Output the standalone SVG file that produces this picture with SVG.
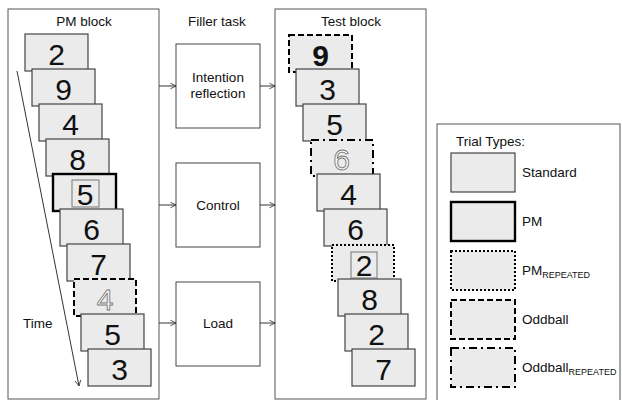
<svg xmlns="http://www.w3.org/2000/svg" width="622" height="400" viewBox="0 0 622 400">
  <defs>
    <style>
      text { font-family: "Liberation Sans", Arial, sans-serif; fill: #111; }
      .lbl { font-size: 13.5px; }
      .mid { text-anchor: middle; }
      .block { fill: #fff; stroke: #555; stroke-width: 1; }
      .task { fill: #fff; stroke: #444; stroke-width: 1; }
      .card { fill: #ebebeb; stroke: #444; stroke-width: 1.2; }
      .pm { fill: #ebebeb; stroke: #000; stroke-width: 2.4; }
      .pmrep { fill: #ebebeb; stroke: #000; stroke-width: 2; stroke-dasharray: 2 2; }
      .odd { fill: #ebebeb; stroke: #000; stroke-width: 2; stroke-dasharray: 6 3; }
      .oddrep { fill: #ebebeb; stroke: #000; stroke-width: 2; stroke-dasharray: 8 4 2 4; }
      .inner { fill: #ebebeb; stroke: #777; stroke-width: 1; }
      .digit { font-size: 30px; text-anchor: middle; }
      .bold { font-weight: bold; }
      .hollow { fill: #f7f7f7; stroke: #7a7a7a; stroke-width: 0.9; }
      .conn { fill: none; stroke: #333; stroke-width: 1; }
      .sub { font-size: 9px; }
    </style>
    <marker id="open" viewBox="0 0 10 10" refX="9" refY="5" markerWidth="7" markerHeight="7" orient="auto" markerUnits="userSpaceOnUse">
      <path d="M1,1 L9,5 L1,9" fill="none" stroke="#333" stroke-width="1.2"/>
    </marker>
  </defs>

  <!-- study phase -->
  <g id="pm-block">
    <rect class="block" x="8" y="9" width="151" height="390"/>
    <text class="lbl mid" x="84" y="26">PM block</text>
    <line class="conn" x1="17" y1="71" x2="79" y2="386" marker-end="url(#open)"/>
    <text class="lbl" x="23" y="328">Time</text>
    <rect class="card" x="25" y="34" width="63" height="37"/><text class="digit" x="56.5" y="65">2</text>
    <rect class="card" x="32" y="69" width="63" height="37"/><text class="digit" x="63.5" y="100">9</text>
    <rect class="card" x="39" y="104" width="63" height="37"/><text class="digit" x="70.5" y="135">4</text>
    <rect class="card" x="46" y="139" width="63" height="37"/><text class="digit" x="77.5" y="170">8</text>
    <rect class="pm" x="53" y="174" width="63" height="37"/>
    <rect class="inner" x="72" y="180" width="27" height="27"/><text class="digit" x="85" y="205">5</text>
    <rect class="card" x="60" y="209" width="63" height="37"/><text class="digit" x="91.5" y="240">6</text>
    <rect class="card" x="67" y="244" width="63" height="37"/><text class="digit" x="98.5" y="275">7</text>
    <rect class="odd" x="74" y="279" width="62" height="37"/><text class="digit hollow" x="105" y="310">4</text>
    <rect class="card" x="81" y="314" width="63" height="37"/><text class="digit" x="112.5" y="345">5</text>
    <rect class="card" x="88" y="349" width="63" height="37"/><text class="digit" x="119.5" y="380">3</text>
  </g>

  <!-- filler tasks -->
  <g id="filler-title">
    <text class="lbl mid" x="217" y="26">Filler task</text>
  </g>
  <g id="intention-reflection">
    <rect class="task" x="176" y="44" width="84" height="84"/>
    <text class="lbl mid" x="218" y="82">Intention</text>
    <text class="lbl mid" x="218" y="98">reflection</text>
  </g>
  <g id="control">
    <rect class="task" x="176" y="163" width="84" height="84"/>
    <text class="lbl mid" x="218" y="210">Control</text>
  </g>
  <g id="load">
    <rect class="task" x="176" y="282" width="84" height="84"/>
    <text class="lbl mid" x="218" y="328">Load</text>
  </g>

  <!-- test phase -->
  <g id="test-block">
    <rect class="block" x="275" y="9" width="151" height="390"/>
    <text class="lbl mid" x="351" y="26">Test block</text>
    <rect class="odd" x="289" y="35" width="63" height="37"/><text class="digit bold" x="320.5" y="66">9</text>
    <rect class="card" x="296" y="69" width="63" height="37"/><text class="digit" x="327.5" y="100">3</text>
    <rect class="card" x="303" y="104" width="63" height="37"/><text class="digit" x="334.5" y="135">5</text>
    <rect class="oddrep" x="311" y="140" width="62" height="36"/><text class="digit hollow" x="341.5" y="170">6</text>
    <rect class="card" x="317" y="174" width="63" height="37"/><text class="digit" x="348.5" y="205">4</text>
    <rect class="card" x="324" y="209" width="63" height="37"/><text class="digit" x="355.5" y="240">6</text>
    <rect class="pmrep" x="332" y="245" width="62" height="36"/>
    <rect class="inner" x="351" y="252" width="26" height="26"/><text class="digit" x="364" y="276">2</text>
    <rect class="card" x="338" y="279" width="63" height="37"/><text class="digit" x="369.5" y="310">8</text>
    <rect class="card" x="345" y="314" width="63" height="37"/><text class="digit" x="376.5" y="345">2</text>
    <rect class="card" x="352" y="349" width="63" height="37"/><text class="digit" x="383.5" y="380">7</text>
  </g>

  <!-- legend -->
  <g id="legend">
    <rect class="block" x="437" y="124" width="183" height="290"/>
    <text class="lbl" x="456" y="146">Trial Types:</text>
    <rect class="card" x="451" y="153" width="64" height="39"/>
    <text class="lbl" x="522" y="177">Standard</text>
    <rect class="pm" x="451" y="202" width="64" height="39"/>
    <text class="lbl" x="522" y="226">PM</text>
    <rect class="pmrep" x="451" y="251" width="64" height="39"/>
    <text class="lbl" x="522" y="275">PM<tspan class="sub" dy="3">REPEATED</tspan></text>
    <rect class="odd" x="451" y="300" width="64" height="39"/>
    <text class="lbl" x="522" y="324">Oddball</text>
    <rect class="oddrep" x="451" y="348" width="64" height="39"/>
    <text class="lbl" x="522" y="372">Oddball<tspan class="sub" dy="3">REPEATED</tspan></text>
  </g>

  <!-- connectors -->
  <g id="connectors">
    <line class="conn" x1="159" y1="86" x2="176" y2="86" marker-end="url(#open)"/>
    <line class="conn" x1="159" y1="205" x2="176" y2="205" marker-end="url(#open)"/>
    <line class="conn" x1="159" y1="323" x2="176" y2="323" marker-end="url(#open)"/>
    <line class="conn" x1="260" y1="86" x2="275" y2="86" marker-end="url(#open)"/>
    <line class="conn" x1="260" y1="205" x2="275" y2="205" marker-end="url(#open)"/>
    <line class="conn" x1="260" y1="323" x2="275" y2="323" marker-end="url(#open)"/>
  </g>
</svg>
